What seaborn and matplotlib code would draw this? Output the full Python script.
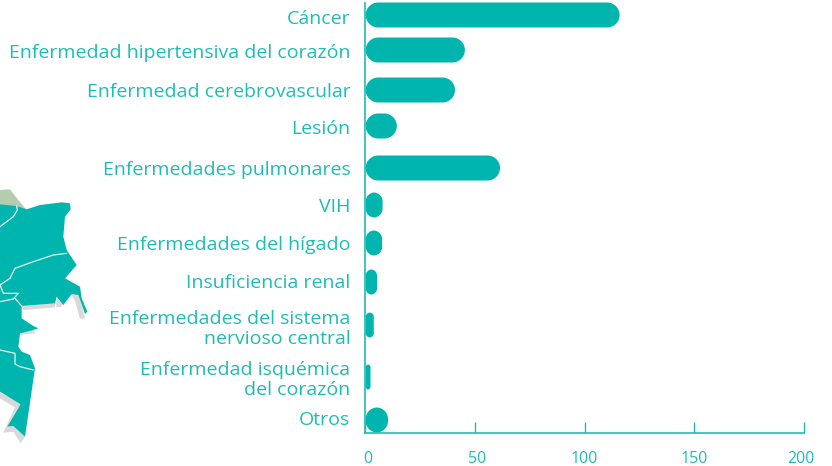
import matplotlib
matplotlib.use("Agg")
import matplotlib.pyplot as plt
from matplotlib.patches import PathPatch, Polygon
from matplotlib.path import Path
from matplotlib.transforms import ScaledTranslation
import pandas as pd
import seaborn as sns

causes = [
    "Cáncer",
    "Enfermedad hipertensiva del corazón",
    "Enfermedad cerebrovascular",
    "Lesión",
    "Enfermedades pulmonares",
    "VIH",
    "Enfermedades del hígado",
    "Insuficiencia renal",
    "Enfermedades del sistema\nnervioso central",
    "Enfermedad isquémica\ndel corazón",
    "Otros",
]
values = [116, 45.5, 41, 14.5, 61.5, 8, 7.8, 5.5, 4, 2.5, 10.5]
x_ticks = [0, 50, 100, 150, 200]

# the rows are not evenly spaced in the original, these are pixel rows
row_pos = [15, 50, 90, 126, 168, 205, 243, 282, 325, 377, 420]
label_pos = [17, 51, 90, 127, 168, 205, 243, 281, 326, 377, 418]
x_label_nudge = [3, 2, 0, 0, -3]

TEAL = "#00B5AD"
TEXT = "#1DBDB5"
W, H = 832, 466

# decorative map fragment on the left, traced in pixels from the 3x crop
map_green = [(0, 60), (30, 58), (55, 90), (80, 120), (50, 110), (0, 105)]
map_teal = [(0, 103), (50, 108), (80, 118), (120, 105), (185, 97), (210, 100), (212, 118), (195, 140),
            (190, 200), (200, 240), (230, 285), (195, 325), (240, 350), (245, 385), (262, 425), (255, 432),
            (235, 375), (215, 372), (190, 405), (170, 380), (165, 400), (65, 408), (65, 445), (100, 468),
            (115, 475), (100, 480), (60, 490), (55, 530), (65, 545), (90, 555), (105, 595), (75, 800),
            (40, 768), (22, 770), (62, 703), (0, 665)]
map_shadows = [
    [(65, 408), (165, 400), (165, 412), (70, 420)],
    [(170, 385), (190, 400), (180, 412), (168, 410)],
    [(212, 372), (235, 370), (255, 445), (240, 447), (225, 392)],
    [(55, 485), (100, 478), (105, 490), (55, 495)],
    [(0, 668), (62, 698), (62, 708), (25, 770), (40, 768), (75, 800), (62, 820), (40, 785), (10, 788), (45, 712), (0, 685)],
]
map_borders = [
    [(0, 170), (40, 140), (52, 120), (50, 108)],
    [(0, 345), (30, 325), (45, 295), (100, 275), (160, 255), (200, 250)],
    [(0, 395), (40, 387), (55, 370), (10, 370), (0, 345)],
    [(45, 385), (65, 408)],
    [(0, 540), (45, 550), (45, 582), (60, 590), (100, 600)],
]


def to_px(pts):
    return [(x / 3, 170 + y / 3) for x, y in pts]


def pill(x0, y0, w, h, rx, ry):
    k = 0.5523
    x1, y1 = x0 + w, y0 + h
    verts = [
        (x0 + rx, y0), (x1 - rx, y0),
        (x1 - rx + k * rx, y0), (x1, y0 + ry - k * ry), (x1, y0 + ry),
        (x1, y1 - ry),
        (x1, y1 - ry + k * ry), (x1 - rx + k * rx, y1), (x1 - rx, y1),
        (x0 + rx, y1),
        (x0 + rx - k * rx, y1), (x0, y1 - ry + k * ry), (x0, y1 - ry),
        (x0, y0 + ry),
        (x0, y0 + ry - k * ry), (x0 + rx - k * rx, y0), (x0 + rx, y0),
    ]
    codes = [Path.MOVETO, Path.LINETO, Path.CURVE4, Path.CURVE4, Path.CURVE4, Path.LINETO,
             Path.CURVE4, Path.CURVE4, Path.CURVE4, Path.LINETO,
             Path.CURVE4, Path.CURVE4, Path.CURVE4, Path.LINETO,
             Path.CURVE4, Path.CURVE4, Path.CURVE4]
    return Path(verts, codes)


sns.set_theme(style="white")
plt.rcParams["font.family"] = ["Open Sans", "DejaVu Sans"]

fig = plt.figure(figsize=(W / 100, H / 100), dpi=100)

bg = fig.add_axes([0, 0, 1, 1])
bg.set_xlim(0, W)
bg.set_ylim(H, 0)
bg.axis("off")
for pts in map_shadows:
    bg.add_patch(Polygon(to_px(pts), closed=True, fc="#D9D9DB", ec="none"))
bg.add_patch(Polygon(to_px(map_green), closed=True, fc="#B5CDAE", ec="none"))
bg.add_patch(Polygon(to_px(map_teal), closed=True, fc=TEAL, ec="none"))
for pts in map_borders:
    xy = to_px(pts)
    bg.plot([p[0] for p in xy], [p[1] for p in xy], color="#E6F6F4", lw=0.9)

ax = fig.add_axes([365 / W, (H - 432.5) / H, 439 / W, 430 / H])
ax.patch.set_alpha(0)
df = pd.DataFrame({"cause": causes, "value": values, "row": row_pos})
sns.barplot(data=df, x="value", y="row", orient="y", native_scale=True, color=TEAL,
            width=25 / 35, saturation=1, errorbar=None, ax=ax)
ax.set_xlim(0, 200)
ax.set_ylim(432.5, 2.5)

# swap seaborn's square bars for pill shapes, radius kept round in pixels
px_per_x = 439 / 200
for bar in list(ax.patches):
    x0, w, h = bar.get_x(), bar.get_width(), abs(bar.get_height())
    y0 = min(bar.get_y(), bar.get_y() + bar.get_height())
    r_px = min(w * px_per_x, h) / 2
    ax.add_patch(PathPatch(pill(x0 + 0.3, y0, w - 0.3, h, r_px / px_per_x, r_px), fc=TEAL, ec="none", clip_on=False))
    bar.remove()

ax.set_xlabel("")
ax.set_ylabel("")
ax.set_xticks(x_ticks)
ax.set_yticks(label_pos)
ax.set_yticklabels(causes, fontsize=14, color=TEXT, linespacing=1.15)
ax.tick_params(axis="y", length=0, pad=10.5)
ax.tick_params(axis="x", direction="in", length=8, width=1, color=TEXT, labelcolor=TEXT, labelsize=11.5, pad=13, bottom=True)
for label, dx in zip(ax.get_xticklabels(), x_label_nudge):
    label.set_transform(label.get_transform() + ScaledTranslation(dx / 100, 0, fig.dpi_scale_trans))
for side in ["top", "right"]:
    ax.spines[side].set_visible(False)
for side in ["left", "bottom"]:
    ax.spines[side].set_visible(True)
    ax.spines[side].set_color(TEXT)
    ax.spines[side].set_linewidth(1.2)

fig.savefig("out.png", dpi=100)
